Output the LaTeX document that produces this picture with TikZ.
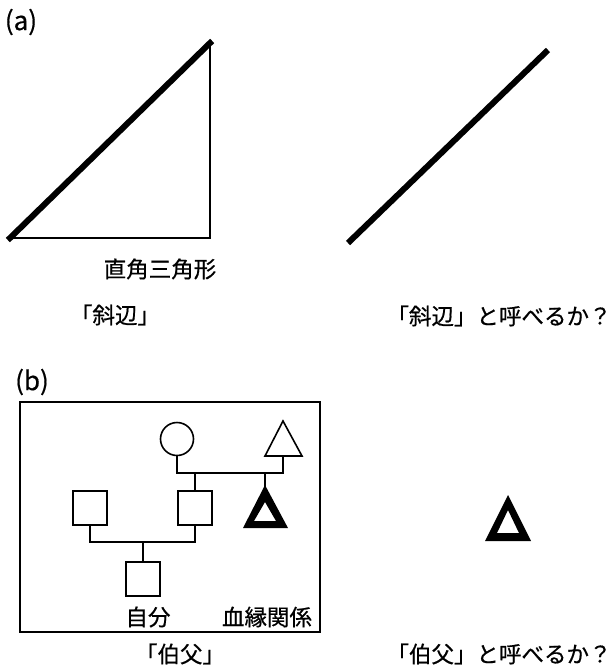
\documentclass[tikz,border=0pt]{standalone}
\usepackage{fontspec}
\setmainfont{Noto Sans CJK JP}[FakeBold=0.6]
\begin{document}
\begin{tikzpicture}[x=1pt,y=-1pt,
  lbl/.style={inner sep=0pt,font=\fontsize{22.5}{26}\selectfont},
  plbl/.style={inner sep=0pt,font=\fontsize{26}{30}\selectfont},
  thin/.style={line width=2pt},
  thick hyp/.style={line width=6pt},
  box/.style={draw,line width=1.6pt,minimum size=34pt,inner sep=0pt},
  link/.style={line width=1.6pt}]
\useasboundingbox (0,0) rectangle (614,667);
% (a)
\node[plbl] (la) at (21,22) {(a)};
\coordinate (A) at (10,238);
\coordinate (B) at (210,238);
\coordinate (C) at (210,43);
\draw[thin] (A) -- (B) -- (C);
\draw[thick hyp,line cap=rect] (A) -- (C);
\coordinate (D) at (348,243);
\coordinate (E) at (548,50);
\draw[thick hyp] (D) -- (E);
\node[lbl] (t1) at (160,269) {直角三角形};
\node[lbl] (t2) at (115,315) {「斜辺」};
\node[lbl] (t3) at (499,316) {「斜辺」と呼べるか？};
% (b)
\node[plbl] (lb) at (32,382) {(b)};
\draw[line width=1.8pt] (20,402) rectangle (320,632);
\node[draw,circle,line width=1.6pt,minimum size=33pt,inner sep=0pt] (mo) at (177,439) {};
\draw[line width=1.6pt] (283,421) -- (302,456) -- (265,456) -- cycle;
\coordinate (tb) at (283,456);
\node[box] (sL) at (90,508) {};
\node[box] (sM) at (195,508) {};
\node[box] (sB) at (143,579) {};
\coordinate (j1) at (177,473);
\coordinate (j2) at (283,473);
\draw[link] (mo.south) -- (j1) -- (j2) -- (tb);
\draw[link] (sM.north) -- (195,473);
\coordinate (k1) at (90,542);
\coordinate (k2) at (195,542);
\draw[link] (sL.south) -- (k1) -- (k2) -- (sM.south);
\draw[link] (143,542) -- (sB.north);
\draw[link] (265,473) -- (265,487);
\fill[even odd rule] (265,485) -- (288,528) -- (243,528) -- cycle
  (265,502) -- (276,521) -- (254,521) -- cycle;
\node[lbl] (t4) at (148,617) {自分};
\node[lbl] (t5) at (267,617) {血縁関係};
\node[lbl] (t6) at (180,654) {「伯父」};
\node[lbl] (t7) at (499,654) {「伯父」と呼べるか？};
% right triangle
\fill[even odd rule] (508,495) -- (531,541) -- (485,541) -- cycle
  (508,510) -- (519,533) -- (497,533) -- cycle;
\end{tikzpicture}
\end{document}
